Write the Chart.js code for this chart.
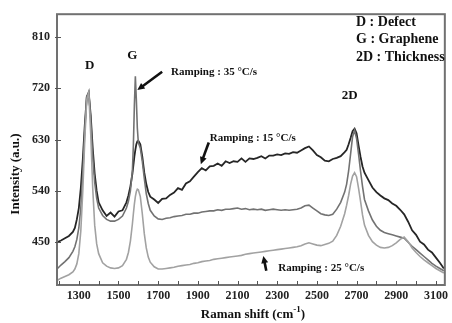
<!DOCTYPE html>
<html>
<head>
<meta charset="utf-8">
<script src="https://cdn.jsdelivr.net/npm/chart.js@4.4.0/dist/chart.umd.min.js"></script>
<style>
html,body{margin:0;padding:0;background:#fff}
#wrap{width:452px;height:323px}
</style>
</head>
<body>
<div id="wrap"><canvas id="chart1" width="452" height="323"></canvas></div>
<script>
// ------------------------------- DATA

var shift = [
    1190,1210,1230,1250,1270,1280,1290,1300,1310,1320,1330,1340,1350,1360,1370,1380,1390,1400,1420,1440,
    1460,1480,1500,1520,1540,1550,1560,1570,1575,1580,1585,1590,1595,1600,1610,1620,1630,1640,1650,1660,
    1680,1700,1720,1740,1760,1780,1800,1820,1840,1860,1880,1900,1920,1940,1960,1980,2000,2020,2040,2060,
    2080,2100,2120,2140,2160,2180,2200,2220,2240,2260,2280,2300,2320,2340,2360,2380,2400,2420,2440,2460,
    2480,2500,2520,2540,2560,2580,2600,2620,2640,
    2650,2660,2670,2680,2690,2700,2710,2720,2730,2740,
    2760,2780,2800,2820,2840,2860,2880,2900,2920,2940,2960,2980,3000,3020,3040,3060,3080,3100,3120,3140
]

// Ramping 15 C/s (top, noisy)
var ramp15 = [
    450,453,457,461,468,475,490,510,545,595,655,705,712,672,615,570,540,520,506,496,
    502,495,504,506,520,532,548,570,585,600,612,622,627,628,622,600,572,552,538,530,
    525,519,526,527,533,537,545,542,553,557,565,573,580,576,583,584,588,584,592,589,
    592,591,597,591,597,596,598,601,597,602,602,604,603,606,605,608,607,611,615,618,
    611,603,599,593,592,596,598,601,608,
    612,622,633,645,649,641,620,600,583,572,
    559,546,538,532,527,524,518,514,507,499,486,471,463,451,446,437,432,423,414,404
]

// Ramping 35 C/s (middle, sharp G)
var ramp35 = [
    403,410,416,423,434,442,455,475,510,570,645,705,714,665,600,555,527,510,497,490,
    487,487,490,496,510,522,540,575,620,690,741,700,650,625,615,592,562,535,518,506,
    496,491,490,492,493,495,496,497,499,499,501,501,503,504,505,505,507,506,508,508,
    509,510,508,509,507,508,507,508,506,507,508,507,506,507,506,507,508,510,514,515,
    510,505,500,498,497,499,508,520,538,
    552,575,605,635,646,632,605,575,548,525,
    505,489,478,471,467,465,463,461,459,457,450,443,437,431,425,419,413,408,404,400
]

// Ramping 25 C/s (bottom)
var ramp25 = [
    383,387,390,393,398,403,412,430,470,540,630,700,712,640,545,480,447,430,414,408,
    405,404,405,409,420,432,452,482,500,517,530,539,543,542,530,500,465,440,424,415,
    407,403,403,404,405,406,408,409,410,411,413,414,416,417,418,420,421,422,423,424,
    425,426,427,429,430,431,432,433,434,435,436,437,438,439,440,441,442,444,447,449,
    447,445,444,446,448,452,462,478,500,
    515,532,552,566,572,565,545,522,498,480,
    462,451,445,441,440,441,444,449,455,459,451,440,432,425,419,414,409,404,400,396
]

var xTicks = [1200,1300,1400,1500,1600,1700,1800,1900,2000,2100,2200,2300,2400,2500,2600,2700,2800,2900,3000,3100]
var xLabels = [1300,1500,1700,1900,2100,2300,2500,2700,2900,3100]
var yTicks = [450,540,630,720,810]

var serif = '"Liberation Serif", "Times New Roman", serif'

function toPts(ys){
    return shift.map((x,i) => ({x:x, y:ys[i]}))
}

function arrow(ctx, x1, y1, x2, y2, w, head){
    let ang = Math.atan2(y2-y1, x2-x1)
    ctx.lineWidth = w
    ctx.beginPath()
    ctx.moveTo(x1,y1)
    ctx.lineTo(x2 - Math.cos(ang)*head*0.6, y2 - Math.sin(ang)*head*0.6)
    ctx.stroke()
    ctx.beginPath()
    ctx.moveTo(x2,y2)
    ctx.lineTo(x2 - head*Math.cos(ang-0.45), y2 - head*Math.sin(ang-0.45))
    ctx.lineTo(x2 - head*Math.cos(ang+0.45), y2 - head*Math.sin(ang+0.45))
    ctx.closePath()
    ctx.fill()
}

var decor = {
    id: 'decor',
    afterDraw: (chart) => {
        let ctx = chart.ctx
        let a = chart.chartArea
        let xs = chart.scales.x, ys = chart.scales.y
        let X = v => xs.getPixelForValue(v)
        let Y = v => ys.getPixelForValue(v)

        ctx.save()
        // frame
        ctx.strokeStyle = '#717171'
        ctx.lineWidth = 2
        ctx.strokeRect(a.left, a.top, a.right-a.left, a.bottom-a.top)

        // inward ticks
        ctx.strokeStyle = '#555'
        ctx.lineWidth = 1
        xTicks.forEach(v => {
            let p = Math.round(X(v)) + 0.5
            ctx.beginPath(); ctx.moveTo(p, a.bottom); ctx.lineTo(p, a.bottom-4); ctx.stroke()
        })
        yTicks.forEach(v => {
            let p = Math.round(Y(v)) + 0.5
            ctx.beginPath(); ctx.moveTo(a.left-2, p); ctx.lineTo(a.left+4, p); ctx.stroke()
        })

        ctx.fillStyle = '#111'
        ctx.textBaseline = 'middle'

        // peak names
        ctx.font = 'bold 13px ' + serif
        ctx.textAlign = 'center'
        ctx.fillText('D', X(1355), Y(760))
        ctx.fillText('G', X(1570), Y(777))
        ctx.fillText('2D', X(2665), Y(708))

        // key
        ctx.font = 'bold 14px ' + serif
        ctx.textAlign = 'left'
        ctx.fillText('D : Defect', 356, 22)
        ctx.fillText('G : Graphene', 356, 39)
        ctx.fillText('2D : Thickness', 356, 57)

        // ramping notes
        ctx.font = 'bold 11px ' + serif
        ctx.fillText('Ramping : 35 \u00b0C/s', X(1765), Y(749))
        ctx.fillText('Ramping : 15 \u00b0C/s', X(1960), Y(633))
        ctx.fillText('Ramping : 25 \u00b0C/s', X(2305), Y(405))

        // arrows
        ctx.strokeStyle = '#111'
        arrow(ctx, X(1720), Y(749), X(1595), Y(717), 2.6, 8)
        arrow(ctx, X(1955), Y(625), X(1915), Y(587), 2.6, 8)
        arrow(ctx, X(2245), Y(400), X(2230), Y(426), 2.6, 8)

        // axis titles
        ctx.font = 'bold 13px ' + serif
        ctx.textAlign = 'center'
        ctx.save()
        ctx.translate(16, 174)
        ctx.rotate(-Math.PI/2)
        ctx.fillText('Intensity (a.u.)', 0, 0)
        ctx.restore()

        let t1 = 'Raman shift (cm', t2 = '-1', t3 = ')'
        ctx.font = 'bold 13px ' + serif
        let w1 = ctx.measureText(t1).width, w3 = ctx.measureText(t3).width
        ctx.font = 'bold 9px ' + serif
        let w2 = ctx.measureText(t2).width
        let x0 = (a.left + a.right)/2 + 2 - (w1+w2+w3)/2
        ctx.textAlign = 'left'
        ctx.font = 'bold 13px ' + serif
        ctx.fillText(t1, x0, 315)
        ctx.fillText(t3, x0+w1+w2, 315)
        ctx.font = 'bold 9px ' + serif
        ctx.fillText(t2, x0+w1, 310)
        ctx.restore()
    }
}

var chart = document.getElementById('chart1')
var raman = new Chart(chart, {
    type: 'line',
    data: {
        datasets: [
            {label: 'Ramping 25', data: toPts(ramp25), borderColor: '#a2a2a2', borderWidth: 1.6},
            {label: 'Ramping 35', data: toPts(ramp35), borderColor: '#727272', borderWidth: 1.6},
            {label: 'Ramping 15', data: toPts(ramp15), borderColor: '#262626', borderWidth: 1.8}
        ]
    },
    options: {
        responsive: false,
        animation: false,
        elements: {point: {radius: 0}, line: {tension: 0}},
        layout: {padding: {top: 9, right: 4, left: 0, bottom: 0}},
        plugins: {legend: {display: false}, tooltip: {enabled: false}},
        scales: {
            x: {
                type: 'linear',
                min: 1190,
                max: 3145,
                grid: {display: false, drawTicks: false},
                border: {display: false},
                afterBuildTicks: s => { s.ticks = xTicks.map(v => ({value: v})) },
                afterFit: s => { s.height = 38 },
                ticks: {
                    autoSkip: false,
                    maxRotation: 0,
                    padding: 4,
                    color: '#222',
                    font: {family: serif, size: 12, weight: 'bold'},
                    callback: v => xLabels.includes(v) ? String(v) : ''
                }
            },
            y: {
                min: 375,
                max: 850,
                grid: {display: false, drawTicks: false},
                border: {display: false},
                afterBuildTicks: s => { s.ticks = yTicks.map(v => ({value: v})) },
                afterFit: s => { s.width = 57 },
                ticks: {
                    padding: 7,
                    color: '#222',
                    font: {family: serif, size: 12, weight: 'bold'}
                }
            }
        }
    },
    plugins: [decor]
})
</script>
</body>
</html>
